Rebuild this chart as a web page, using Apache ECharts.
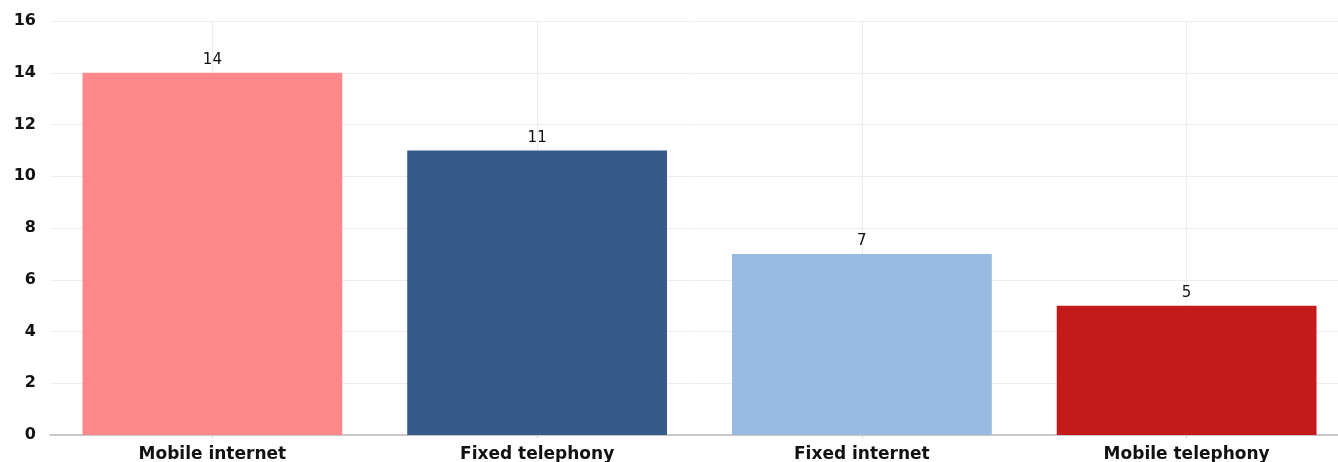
<!DOCTYPE html>
<html lang="en">
<head>
    <meta charset="UTF-8"/>
    <title>Chart</title>
    <style>
        * {
            padding: 0;
            margin: 0;
        }

        body {
            background-color: white;
        }

        #chart {
            width: 1338px;
            height: 462px;
        }
    </style>
    <script src="https://cdn.jsdelivr.net/npm/echarts@6/dist/echarts.min.js"></script>
</head>
<body>
<div id="chart"></div>
</body>
<script>
    const categories = ['Mobile internet', 'Fixed telephony', 'Fixed internet', 'Mobile telephony']
    const values = [14, 11, 7, 5]
    const barColors = ['#FF888D', '#365B8A', '#99BAE3', '#C41A1C']
    const yTicks = [0, 2, 4, 6, 8, 10, 12, 14, 16]

    // half-band categories, only used to put vertical grid lines at bar centres
    const halfBands = []
    categories.forEach(c => {
        halfBands.push(c + '-a')
        halfBands.push(c + '-b')
    })

    const chart = echarts.init(document.getElementById('chart'))

    chart.setOption({
        animation: false,
        grid: {
            left: 50,
            width: 1299,
            top: 21,
            bottom: 27,
            outerBoundsMode: 'none'
        },
        xAxis: [
            {
                type: 'category',
                data: categories,
                axisLine: {lineStyle: {color: '#bbbbbb', width: 1.5}},
                axisTick: {show: true, alignWithLabel: true, length: 3, lineStyle: {color: '#cccccc'}},
                axisLabel: {
                    color: '#111',
                    fontFamily: 'DejaVu Sans',
                    fontWeight: 'bold',
                    fontSize: 17,
                    margin: 11
                },
                splitLine: {show: false}
            },
            {
                type: 'category',
                data: halfBands,
                position: 'bottom',
                axisLine: {show: false},
                axisTick: {show: false},
                axisLabel: {show: false},
                splitLine: {
                    show: true,
                    interval: (i) => i % 2 === 1,
                    lineStyle: {color: '#ececec'}
                }
            }
        ],
        yAxis: {
            type: 'value',
            min: yTicks[0],
            max: yTicks[yTicks.length - 1],
            interval: 2,
            axisLine: {show: false},
            axisTick: {show: false},
            axisLabel: {
                color: '#111',
                fontFamily: 'DejaVu Sans',
                fontWeight: 'bold',
                fontSize: 16,
                margin: 14
            },
            splitLine: {lineStyle: {color: '#eeeeee'}}
        },
        series: [
            {
                type: 'bar',
                xAxisIndex: 0,
                barWidth: '80%',
                data: values.map((v, i) => ({value: v, itemStyle: {color: barColors[i]}})),
                label: {
                    show: true,
                    position: 'top',
                    color: '#111',
                    fontFamily: 'DejaVu Sans',
                    fontSize: 15,
                    distance: 5
                }
            }
        ]
    })
</script>
</html>
